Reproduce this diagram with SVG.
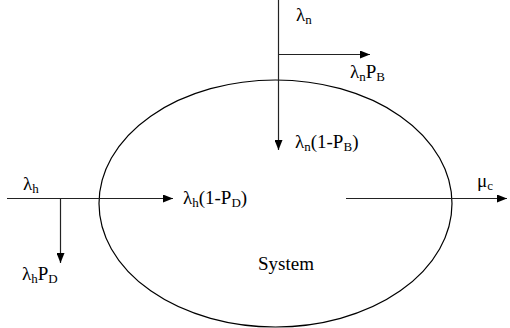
<svg xmlns="http://www.w3.org/2000/svg" width="510" height="328" viewBox="0 0 510 328">
<defs>
<marker id="ah" markerWidth="10" markerHeight="8" refX="10" refY="4" orient="auto" markerUnits="userSpaceOnUse">
<path d="M0,0 L10,4 L0,8 Z" fill="#000"/>
</marker>
<style>
text{font-family:"Liberation Serif","Times New Roman",serif;font-size:19px;fill:#000}
.s{font-size:13px}
.c{stroke:#222;stroke-width:1.2;fill:none}
</style>
</defs>
<rect width="510" height="328" fill="#fff"/>
<g id="system">
<ellipse cx="275.5" cy="203.5" rx="176.5" ry="123.5" fill="none" stroke="#000" stroke-width="1.2"/>
<text x="286" y="270" text-anchor="middle">System</text>
</g>
<g id="connectors">
<line class="c" x1="278.5" y1="0" x2="278.5" y2="150" marker-end="url(#ah)"/>
<line class="c" x1="278.5" y1="54.5" x2="370" y2="54.5" marker-end="url(#ah)"/>
<line class="c" x1="7" y1="198.5" x2="173" y2="198.5" marker-end="url(#ah)"/>
<line class="c" x1="60.5" y1="198.5" x2="60.5" y2="263" marker-end="url(#ah)"/>
<line class="c" x1="346" y1="198.5" x2="507" y2="198.5" marker-end="url(#ah)"/>
</g>
<g id="labels">
<text x="296" y="21">λ<tspan class="s" dy="3">n</tspan></text>
<text x="350" y="78">λ<tspan class="s" dy="3">n</tspan><tspan dy="-3">P</tspan><tspan class="s" dy="3">B</tspan></text>
<text x="295" y="148">λ<tspan class="s" dy="3">n</tspan><tspan dy="-3">(1-P</tspan><tspan class="s" dy="3">B</tspan><tspan dy="-3">)</tspan></text>
<text x="183" y="204">λ<tspan class="s" dy="3">h</tspan><tspan dy="-3">(1-P</tspan><tspan class="s" dy="3">D</tspan><tspan dy="-3">)</tspan></text>
<text x="23" y="190">λ<tspan class="s" dy="3">h</tspan></text>
<text x="22" y="280">λ<tspan class="s" dy="3">h</tspan><tspan dy="-3">P</tspan><tspan class="s" dy="3">D</tspan></text>
<text x="477" y="187">μ<tspan class="s" dy="3">c</tspan></text>
</g>
</svg>
